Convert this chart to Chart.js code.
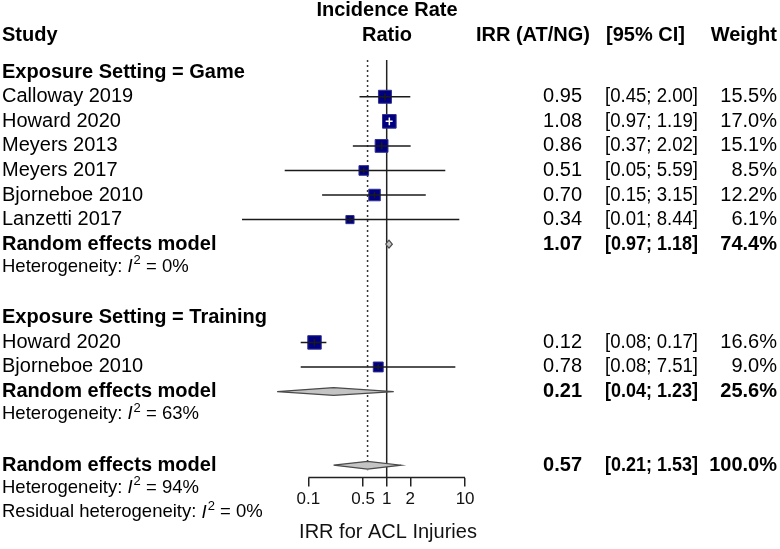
<!DOCTYPE html>
<html>
<head>
<meta charset="utf-8">
<script src="https://cdn.jsdelivr.net/npm/chart.js@4.4.1/dist/chart.umd.min.js"></script>
<style>
  html, body { margin: 0; padding: 0; background: #fff; }
  #wrap { width: 780px; height: 549px; }
</style>
</head>
<body>
<div id="wrap"><canvas id="forest"></canvas></div>
<script>
// study rows
const studyLabels = ['Calloway 2019', 'Howard 2020', 'Meyers 2013', 'Meyers 2017', 'Bjorneboe 2010', 'Lanzetti 2017', 'Howard 2020', 'Bjorneboe 2010'];
const studyRows = [1, 2, 3, 4, 5, 6, 11, 12];
const irr = [0.95, 1.08, 0.86, 0.51, 0.70, 0.34, 0.12, 0.78];
const ciLow = [0.45, 0.97, 0.37, 0.05, 0.15, 0.01, 0.08, 0.08];
const ciHigh = [2.00, 1.19, 2.02, 5.59, 3.15, 8.44, 0.17, 7.51];
const weights = [15.5, 17.0, 15.1, 8.5, 12.2, 6.1, 16.6, 9.0];

// pooled (random effects) rows
const pooledLabels = ['Random effects model', 'Random effects model', 'Random effects model'];
const pooledRows = [7, 13, 16];
const pooledIrr = [1.07, 0.21, 0.57];
const pooledLow = [0.97, 0.04, 0.21];
const pooledHigh = [1.18, 1.23, 1.53];
const pooledWeights = [74.4, 25.6, 100.0];

const groupTitles = ['Exposure Setting = Game', 'Exposure Setting = Training'];
const groupRows = [0, 10];

const hetPrefix = ['Heterogeneity: ', 'Heterogeneity: ', 'Heterogeneity: ', 'Residual heterogeneity: '];
const hetI2 = ['0%', '63%', '94%', '0%'];
const hetRows = [8, 14, 17, 18];

const tickValues = [0.1, 0.5, 1, 2, 10];

const FONT = "'Liberation Sans', Arial, Helvetica, sans-serif";
const AXIS_ROW = 16.5;

function squareSide(w) { return 3.3 * Math.sqrt(w); }

// confidence interval segments + small vertical tick at the estimate
const ciPoints = [];
studyRows.forEach((r, i) => {
  const t = 0.28 * squareSide(weights[i]) / 24.5;
  ciPoints.push({x: ciLow[i], y: r}, {x: ciHigh[i], y: r}, {x: null, y: null});
  ciPoints.push({x: irr[i], y: r - t}, {x: irr[i], y: r + t}, {x: null, y: null});
});

const diamondSets = pooledRows.map((r, i) => ({
  type: 'line',
  data: [
    {x: pooledLow[i], y: r}, {x: pooledIrr[i], y: r - 0.16},
    {x: pooledHigh[i], y: r}, {x: pooledIrr[i], y: r + 0.16},
    {x: pooledLow[i], y: r}
  ],
  fill: 'shape',
  backgroundColor: '#c4c4c4',
  borderColor: '#4a4a4a',
  borderWidth: 1.2,
  pointRadius: 0,
  tension: 0,
  order: 3
}));

const textPlugin = {
  id: 'forestText',
  afterDraw(chart) {
    const {ctx} = chart;
    const y = v => chart.scales.y.getPixelForValue(v);
    ctx.save();
    ctx.fillStyle = '#000';
    ctx.textBaseline = 'middle';
    const put = (txt, x, row, align, bold, size, maxW) => {
      ctx.font = (bold ? 'bold ' : '') + size + 'px ' + FONT;
      ctx.textAlign = align;
      if (maxW) ctx.fillText(txt, x, y(row), maxW);
      else ctx.fillText(txt, x, y(row));
    };

    // headers
    put('Study', 2, -1.5, 'left', true, 20);
    put('Incidence Rate', 387, -2.5, 'center', true, 20);
    put('Ratio', 387, -1.5, 'center', true, 20);
    put('IRR (AT/NG)', 590, -1.5, 'right', true, 20);
    put('[95% CI]', 606, -1.5, 'left', true, 20);
    put('Weight', 777, -1.5, 'right', true, 20);

    groupTitles.forEach((g, i) => put(g, 2, groupRows[i], 'left', true, 20));

    studyLabels.forEach((s, i) => {
      const r = studyRows[i];
      put(s, 2, r, 'left', false, 20);
      put(irr[i].toFixed(2), 582, r, 'right', false, 20);
      put('[' + ciLow[i].toFixed(2) + '; ' + ciHigh[i].toFixed(2) + ']', 605, r, 'left', false, 20, 93);
      put(weights[i].toFixed(1) + '%', 777, r, 'right', false, 20);
    });

    pooledLabels.forEach((s, i) => {
      const r = pooledRows[i];
      put(s, 2, r, 'left', true, 20);
      put(pooledIrr[i].toFixed(2), 582, r, 'right', true, 20);
      put('[' + pooledLow[i].toFixed(2) + '; ' + pooledHigh[i].toFixed(2) + ']', 605, r, 'left', true, 20, 93);
      put(pooledWeights[i].toFixed(1) + '%', 777, r, 'right', true, 20);
    });

    // heterogeneity lines with italic I and superscript 2
    hetRows.forEach((r, i) => {
      const py = y(r - 0.08);
      let x = 2;
      ctx.textAlign = 'left';
      ctx.font = '18.5px ' + FONT;
      ctx.fillText(hetPrefix[i], x, py);
      x += ctx.measureText(hetPrefix[i]).width;
      ctx.font = 'italic 18.5px ' + FONT;
      ctx.fillText('I', x, py);
      x += ctx.measureText('I').width + 1;
      ctx.font = '13px ' + FONT;
      ctx.fillText('2', x, py - 6);
      x += ctx.measureText('2').width;
      ctx.font = '18.5px ' + FONT;
      ctx.fillText(' = ' + hetI2[i], x, py);
    });
    ctx.restore();
  }
};

new Chart(document.getElementById('forest'), {
  type: 'line',
  data: {
    datasets: [
      {
        type: 'line',
        data: ciPoints,
        borderColor: '#1a1a1a',
        borderWidth: 1.5,
        pointRadius: 0,
        segment: {
          borderColor: c => {
            const i = Math.floor(c.p0DataIndex / 6);
            const xs = c.chart.scales.x;
            const w = xs.getPixelForValue(ciHigh[i]) - xs.getPixelForValue(ciLow[i]);
            return w < squareSide(weights[i]) ? '#ffffff' : '#1a1a1a';
          }
        },
        order: 1
      },
      {
        type: 'scatter',
        data: studyRows.map((r, i) => ({x: irr[i], y: r})),
        pointStyle: 'rect',
        pointRadius: c => squareSide(weights[c.dataIndex]) / Math.SQRT2,
        backgroundColor: '#00007f',
        borderColor: '#303090',
        borderWidth: 1,
        order: 2
      },
      ...diamondSets,
      {
        type: 'line',
        data: [{x: 1, y: -0.5}, {x: 1, y: AXIS_ROW}],
        borderColor: '#222',
        borderWidth: 1.5,
        pointRadius: 0,
        order: 6
      },
      {
        type: 'line',
        data: [{x: pooledIrr[2], y: -0.5}, {x: pooledIrr[2], y: 16.2}],
        borderColor: '#333',
        borderWidth: 1.5,
        borderDash: [2, 3],
        pointRadius: 0,
        order: 7
      },
      {
        type: 'line',
        data: [{x: tickValues[0], y: AXIS_ROW}, {x: tickValues[tickValues.length - 1], y: AXIS_ROW}],
        borderColor: '#222',
        borderWidth: 1.5,
        pointRadius: 0,
        clip: false,
        order: 8
      }
    ]
  },
  options: {
    responsive: true,
    maintainAspectRatio: false,
    animation: false,
    events: [],
    layout: { autoPadding: false, padding: { left: 242, right: 246, top: 0, bottom: 0 } },
    plugins: { legend: { display: false }, tooltip: { enabled: false } },
    scales: {
      x: {
        type: 'logarithmic',
        min: 0.01426,
        max: 75.7,
        bounds: 'data',
        afterBuildTicks: s => { s.ticks = tickValues.map(v => ({value: v})); },
        afterFit: s => { s.height = 71.5; },
        border: { display: false },
        grid: { drawOnChartArea: false, drawTicks: true, tickLength: 9, color: '#222', lineWidth: 1.5 },
        ticks: {
          autoSkip: false, maxRotation: 0, padding: 3, color: '#111',
          font: { family: FONT, size: 17 },
          callback: v => String(v)
        },
        title: {
          display: true, text: 'IRR for ACL Injuries', color: '#111',
          font: { family: FONT, size: 20 },
          padding: { top: 2, bottom: 5 }
        }
      },
      y: {
        type: 'linear',
        reverse: true,
        min: -2.94,
        max: AXIS_ROW,
        display: false
      }
    }
  },
  plugins: [textPlugin]
});
</script>
</body>
</html>
